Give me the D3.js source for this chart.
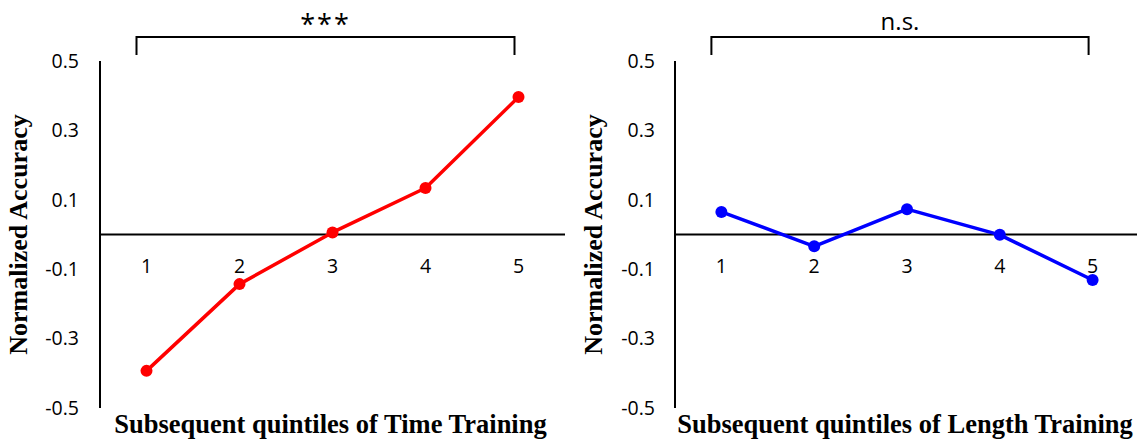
<!DOCTYPE html>
<html>
<head>
<meta charset="utf-8">
<script src="https://cdn.jsdelivr.net/npm/d3@7"></script>
<style>
  body { margin: 0; background: #fff; }
  svg { display: block; }
</style>
</head>
<body>
<svg id="chart" width="1137" height="439"></svg>
<script>
// data
const quintiles = ['1', '2', '3', '4', '5']
const timeValues = [-0.393, -0.143, 0.006, 0.134, 0.396]
const lengthValues = [0.065, -0.034, 0.073, -0.001, -0.131]
const yTicks = [0.5, 0.3, 0.1, -0.1, -0.3, -0.5]
const titles = ['Subsequent quintiles of Time Training', 'Subsequent quintiles of Length Training']
const marks = ['***', 'n.s.']
const colors = ['#ff0000', '#0000ff']

const svg = d3.select('#chart')

// one panel per training type
const panels = [
  { values: timeValues, title: titles[0], mark: marks[0], color: colors[0], left: 100, right: 565, labelX: 79 },
  { values: lengthValues, title: titles[1], mark: marks[1], color: colors[1], left: 675, right: 1139, labelX: 655 }
]

const y = d3.scaleLinear().domain([-0.5, 0.5]).range([408, 61])

panels.forEach(function(p) {
  var g = svg.append('g')
  var x = d3.scalePoint().domain(quintiles).range([p.left, p.right]).padding(0.5)

  // y axis line
  g.append('line')
    .attr('x1', p.left).attr('x2', p.left)
    .attr('y1', y(0.5)).attr('y2', y(-0.5))
    .attr('stroke', '#000').attr('stroke-width', 2)

  // zero line
  g.append('line')
    .attr('x1', p.left).attr('x2', p.right)
    .attr('y1', y(0)).attr('y2', y(0))
    .attr('stroke', '#000').attr('stroke-width', 2)

  // y tick labels
  g.selectAll('.ytick')
    .data(yTicks)
    .enter()
    .append('text')
    .attr('class', 'ytick')
    .attr('x', p.labelX)
    .attr('y', function(d) { return y(d) })
    .attr('dy', '0.35em')
    .attr('text-anchor', 'end')
    .attr('font-family', 'Open Sans, sans-serif')
    .attr('font-size', 19.5)
    .text(function(d) { return d })

  // x tick labels, sitting under the zero line
  g.selectAll('.xtick')
    .data(quintiles)
    .enter()
    .append('text')
    .attr('class', 'xtick')
    .attr('x', function(d) { return x(d) })
    .attr('y', y(0) + 38)
    .attr('text-anchor', 'middle')
    .attr('font-family', 'Open Sans, sans-serif')
    .attr('font-size', 19.5)
    .text(function(d) { return d })

  var pts = quintiles.map(function(q, i) { return [x(q), y(p.values[i])] })

  g.append('path')
    .attr('d', d3.line()(pts))
    .attr('fill', 'none')
    .attr('stroke', p.color)
    .attr('stroke-width', 3.5)
    .attr('stroke-linejoin', 'round')

  g.selectAll('.dot')
    .data(pts)
    .enter()
    .append('circle')
    .attr('class', 'dot')
    .attr('cx', function(d) { return d[0] })
    .attr('cy', function(d) { return d[1] })
    .attr('r', 6)
    .attr('fill', p.color)

  // significance bracket from quintile 1 to 5
  var bx1 = x(quintiles[0]) - 10, bx2 = x(quintiles[4]) - 4
  g.append('path')
    .attr('d', 'M' + bx1 + ',55V37H' + bx2 + 'V55')
    .attr('fill', 'none')
    .attr('stroke', '#000')
    .attr('stroke-width', 2)

  g.append('text')
    .attr('x', (bx1 + bx2) / 2)
    .attr('y', p.mark == '***' ? 34 : 30)
    .attr('text-anchor', 'middle')
    .attr('font-family', 'Open Sans, sans-serif')
    .attr('font-size', p.mark == '***' ? 27 : 24)
    .attr('letter-spacing', p.mark == '***' ? 2 : 0)
    .text(p.mark)

  // axis titles
  g.append('text')
    .attr('transform', 'translate(' + (p.left - 73) + ',' + y(0) + ') rotate(-90)')
    .attr('text-anchor', 'middle')
    .attr('font-family', 'Liberation Serif, serif')
    .attr('font-weight', 'bold')
    .attr('font-size', 26)
    .text('Normalized Accuracy')

  g.append('text')
    .attr('x', (p.left + p.right) / 2 - 2)
    .attr('y', 433)
    .attr('text-anchor', 'middle')
    .attr('font-family', 'Liberation Serif, serif')
    .attr('font-weight', 'bold')
    .attr('font-size', 26.5)
    .text(p.title)
})
</script>
</body>
</html>
